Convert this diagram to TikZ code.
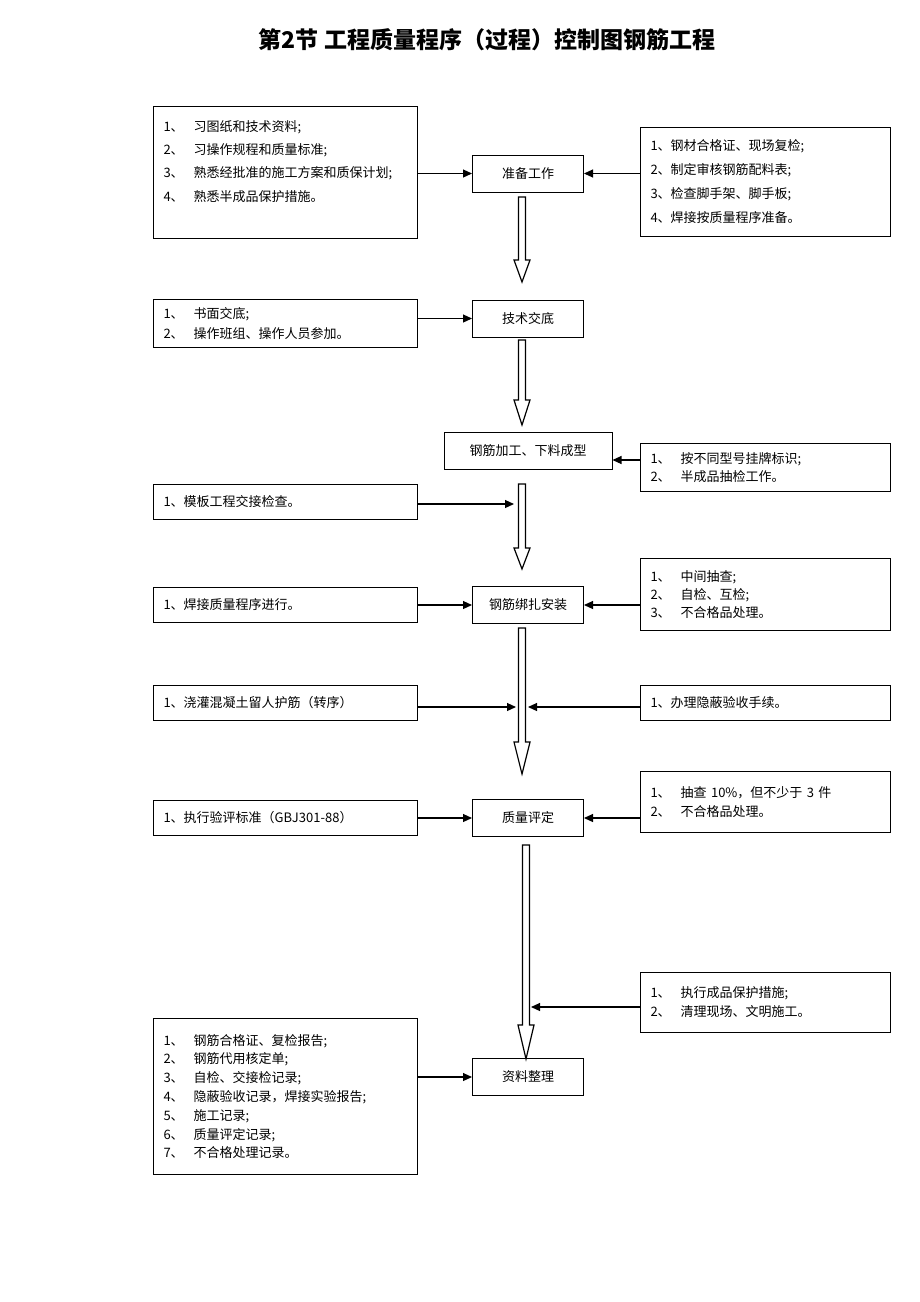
\documentclass[tikz,border=0pt]{standalone}
\usepackage{fontspec}
\setmainfont{Liberation Serif}
\newfontfamily\cjk{Noto Sans CJK SC}
\usetikzlibrary{arrows.meta,calc}

\begin{document}
\begin{tikzpicture}
[x=1pt,y=-1pt,>={Triangle[length=9pt,width=8pt]},
txt/.style={font=\cjk\fontsize{13}{#1}\selectfont},
listbox/.style={draw,line width=1pt,anchor=north west,align=left,inner xsep=10pt,inner ysep=4pt,txt=18},
leftbox/.style={listbox,text width=244pt},
rightbox/.style={listbox,text width=230pt},
stepbox/.style={draw,line width=1pt,minimum width=111pt,minimum height=37pt,txt=15},
link/.style={->,line width=1.1pt},
hollow/.style={draw,line width=1.2pt,fill=white},]
\useasboundingbox (0,0) rectangle (920,1302);
\node[font=\cjk\bfseries\fontsize{23}{27}\selectfont] (title) at (487,40) {第2节 工程质量程序（过程）控制图钢筋工程};
% main steps
\node[stepbox] (prep) at (528,173.5) {准备工作};
\node[stepbox] (brief) at (528,318.5) {技术交底};
\node[stepbox,minimum width=168pt] (cut) at (528,451) {钢筋加工、下料成型};
\node[stepbox] (tie) at (528,605) {钢筋绑扎安装};
\node[stepbox] (eval) at (528,818) {质量评定};
\node[stepbox] (doc) at (528,1077) {资料整理};
% side notes
\node[leftbox,minimum height=132pt,txt=23.3] (prepL) at (153,106) {1、\hspace{10pt}习图纸和技术资料;\\ 2、\hspace{10pt}习操作规程和质量标准;\\ 3、\hspace{10pt}熟悉经批准的施工方案和质保计划;\\ 4、\hspace{10pt}熟悉半成品保护措施。\\ \mbox{}};
\node[rightbox,minimum height=109pt,txt=24] (prepR) at (640,127) {1、钢材合格证、现场复检;\\ 2、制定审核钢筋配料表;\\ 3、检查脚手架、脚手板;\\ 4、焊接按质量程序准备。};
\node[leftbox,minimum height=48pt,txt=20] (briefL) at (153,299) {1、\hspace{10pt}书面交底;\\ 2、\hspace{10pt}操作班组、操作人员参加。};
\node[rightbox,minimum height=48pt] (cutR) at (640,443) {1、\hspace{10pt}按不同型号挂牌标识;\\ 2、\hspace{10pt}半成品抽检工作。};
\node[leftbox,minimum height=35pt] (formL) at (153,484) {1、模板工程交接检查。};
\node[leftbox,minimum height=35pt] (weldL) at (153,587) {1、焊接质量程序进行。};
\node[rightbox,minimum height=72pt] (tieR) at (640,558) {1、\hspace{10pt}中间抽查;\\ 2、\hspace{10pt}自检、互检;\\ 3、\hspace{10pt}不合格品处理。};
\node[leftbox,minimum height=35pt] (pourL) at (153,685) {1、浇灌混凝土留人护筋（转序）};
\node[rightbox,minimum height=35pt] (hideR) at (640,685) {1、办理隐蔽验收手续。};
\node[leftbox,minimum height=35pt] (evalL) at (153,800) {1、执行验评标准（GBJ301-88）};
\node[rightbox,minimum height=61pt,txt=19] (evalR) at (640,771) {1、\hspace{10pt}抽查 10\%，但不少于 3 件\\ 2、\hspace{10pt}不合格品处理。};
\node[rightbox,minimum height=60pt,txt=19] (protR) at (640,972) {1、\hspace{10pt}执行成品保护措施;\\ 2、\hspace{10pt}清理现场、文明施工。};
\node[leftbox,minimum height=156pt,txt=18.8] (docL) at (153,1018) {1、\hspace{10pt}钢筋合格证、复检报告;\\ 2、\hspace{10pt}钢筋代用核定单;\\ 3、\hspace{10pt}自检、交接检记录;\\ 4、\hspace{10pt}隐蔽验收记录，焊接实验报告;\\ 5、\hspace{10pt}施工记录;\\ 6、\hspace{10pt}质量评定记录;\\ 7、\hspace{10pt}不合格处理记录。};
% arrow ends on the flow line
\coordinate (formIn) at (514,504);
\coordinate (pourIn) at (516,707);
\coordinate (hideIn) at (528,707);
\coordinate (protIn) at (531,1007);
% thin arrows
\draw[link] (prepL.east |- prep.west) -- (prep.west);
\draw[link] (prepR.west |- prep.east) -- (prep.east);
\draw[link] (briefL.east |- brief.west) -- (brief.west);
\draw[link] (cutR.west |- 0,460) -- (cut.east |- 0,460);
\draw[link] (formL.east |- formIn) -- (formIn);
\draw[link] (weldL.east |- tie.west) -- (tie.west);
\draw[link] (tieR.west |- tie.east) -- (tie.east);
\draw[link] (pourL.east |- pourIn) -- (pourIn);
\draw[link] (hideR.west |- hideIn) -- (hideIn);
\draw[link] (evalL.east |- eval.west) -- (eval.west);
\draw[link] (evalR.west |- eval.east) -- (eval.east);
\draw[link] (protR.west |- protIn) -- (protIn);
\draw[link] (docL.east |- doc.west) -- (doc.west);
% hollow flow arrows
\foreach \x/\t/\h/\b in {522/197/260/282, 522/340/400/425, 522/484/548/569, 522/628/742/774, 526/845/1025/1059}
  \draw[hollow] (\x-3.5,\t) -- (\x+3.5,\t) -- (\x+3.5,\h) -- (\x+8,\h) -- (\x,\b) -- (\x-8,\h) -- (\x-3.5,\h) -- cycle;
\end{tikzpicture}
\end{document}
